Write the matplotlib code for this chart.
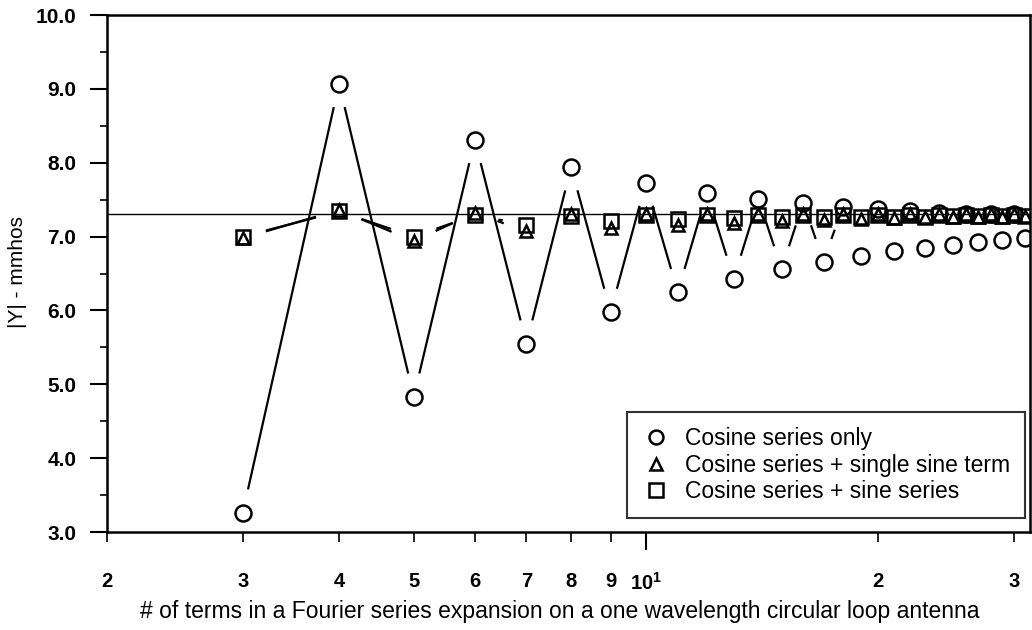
import numpy as np
import matplotlib
matplotlib.use("Agg")
from matplotlib import pyplot as plt
from matplotlib.lines import Line2D

plt.rcParams['font.family'] = ['Liberation Sans', 'DejaVu Sans']
plt.rcParams['mathtext.fontset'] = 'custom'
plt.rcParams['mathtext.rm'] = 'Liberation Sans:bold'
plt.rcParams['mathtext.bf'] = 'Liberation Sans:bold'

# number of terms
n_terms = np.arange(3, 32)

# |Y| (mmhos)
cos_only = [3.26, 9.07, 4.83, 8.31, 5.55, 7.94, 5.98, 7.73, 6.25, 7.59,
            6.43, 7.51, 6.56, 7.46, 6.66, 7.40, 6.74, 7.37, 6.80, 7.34,
            6.85, 7.32, 6.89, 7.31, 6.92, 7.30, 6.96, 7.30, 6.98]
cos_single_sine = [6.98, 7.36, 6.94, 7.32, 7.07, 7.31, 7.12, 7.30, 7.16, 7.30,
                   7.19, 7.30, 7.21, 7.30, 7.22, 7.30, 7.24, 7.30, 7.25, 7.30,
                   7.26, 7.30, 7.26, 7.30, 7.27, 7.30, 7.27, 7.30, 7.28]
cos_sine_series = [7.00, 7.34, 7.00, 7.29, 7.16, 7.28, 7.21, 7.29, 7.24, 7.29,
                   7.25, 7.29, 7.26, 7.29, 7.27, 7.29, 7.27, 7.29, 7.27, 7.29,
                   7.27, 7.29, 7.28, 7.29, 7.28, 7.29, 7.28, 7.29, 7.28]
y_exact = 7.30

labels = ['Cosine series only', 'Cosine series + single sine term',
          'Cosine series + sine series']
markers = ['o', '^', 's']
marker_sizes = [11.5, 8, 10.5]

x_minor = [2, 3, 4, 5, 6, 7, 8, 9, 20, 30]
x_minor_lab = ['2', '3', '4', '5', '6', '7', '8', '9', '2', '3']


def gapped_line(ax, x, y, gap, **kw):
    """connect points with segments that stop short of each marker (pixels)"""
    pts = ax.transData.transform(np.column_stack([x, y]))
    inv = ax.transData.inverted()
    for p0, p1 in zip(pts[:-1], pts[1:]):
        d = p1 - p0
        L = np.hypot(d[0], d[1])
        if L <= 2 * gap + 4:
            continue
        u = d / L
        a = inv.transform(p0 + u * gap)
        b = inv.transform(p1 - u * gap)
        ax.plot([a[0], b[0]], [a[1], b[1]], **kw)


fig = plt.figure(figsize=(10.32, 6.3), dpi=100)
ax = fig.add_axes([107 / 1032, 98 / 630, 923 / 1032, 517 / 630])
ax.set_xscale('log')
ax.set_xlim(2, 31.5)
ax.set_ylim(3.0, 10.0)

ax.axhline(y_exact, color='black', lw=1.0, zorder=2)

series = [cos_only, cos_single_sine, cos_sine_series]
for vals, m, ms in zip(series, markers, marker_sizes):
    gapped_line(ax, n_terms, vals, 24, color='black', lw=1.6,
                solid_capstyle='butt', zorder=3)
    ax.plot(n_terms, vals, linestyle='none', marker=m, ms=ms, mfc='none',
            mec='black', mew=1.8, zorder=4)

# axes styling
for s in ax.spines.values():
    s.set_linewidth(1.8)

ax.set_yticks(np.arange(3, 10.01, 1.0))
ax.set_yticklabels(['%.1f' % v for v in np.arange(3, 10.01, 1.0)])
ax.set_yticks(np.arange(3.5, 10, 1.0), minor=True)
ax.tick_params(axis='y', which='major', direction='out', length=12,
               width=1.5, pad=10, labelsize=15)
ax.tick_params(axis='y', which='minor', direction='out', length=5, width=1.2)
for t in ax.get_yticklabels():
    t.set_fontweight('bold')

ax.set_xticks([10])
ax.set_xticklabels([r'$10^1$'])
ax.set_xticks(x_minor, minor=True)
ax.set_xticklabels(x_minor_lab, minor=True)
ax.tick_params(axis='x', which='major', direction='out', length=13,
               width=1.5, pad=16, labelsize=14.5)
ax.tick_params(axis='x', which='minor', direction='out', length=7,
               width=1.2, pad=22, labelsize=14.5)
for t in ax.get_xticklabels(which='both'):
    t.set_fontweight('bold')

ax.set_xlabel('# of terms in a Fourier series expansion on a one wavelength '
              'circular loop antenna', fontsize=16.5, labelpad=0)
ax.xaxis.set_label_coords(0.491, -0.132)
fig.text(18 / 1032, 1 - 272 / 630, '|Y| - mmhos', rotation=90,
         ha='center', va='center', fontsize=15)

handles = [Line2D([], [], linestyle='none', marker=m, ms=s, mfc='none',
                  mec='black', mew=1.8)
           for m, s in zip(markers, [10, 8, 10])]
leg = ax.legend(handles, labels, loc='lower right', fontsize=16.5,
                frameon=True, fancybox=False, borderpad=0.65,
                labelspacing=0.15, handletextpad=0.6, handlelength=1.3,
                borderaxespad=0, bbox_to_anchor=(0.9946, 0.027))
leg.get_frame().set_edgecolor('black')
leg.get_frame().set_linewidth(1.5)

fig.savefig('out.png', dpi=100)
